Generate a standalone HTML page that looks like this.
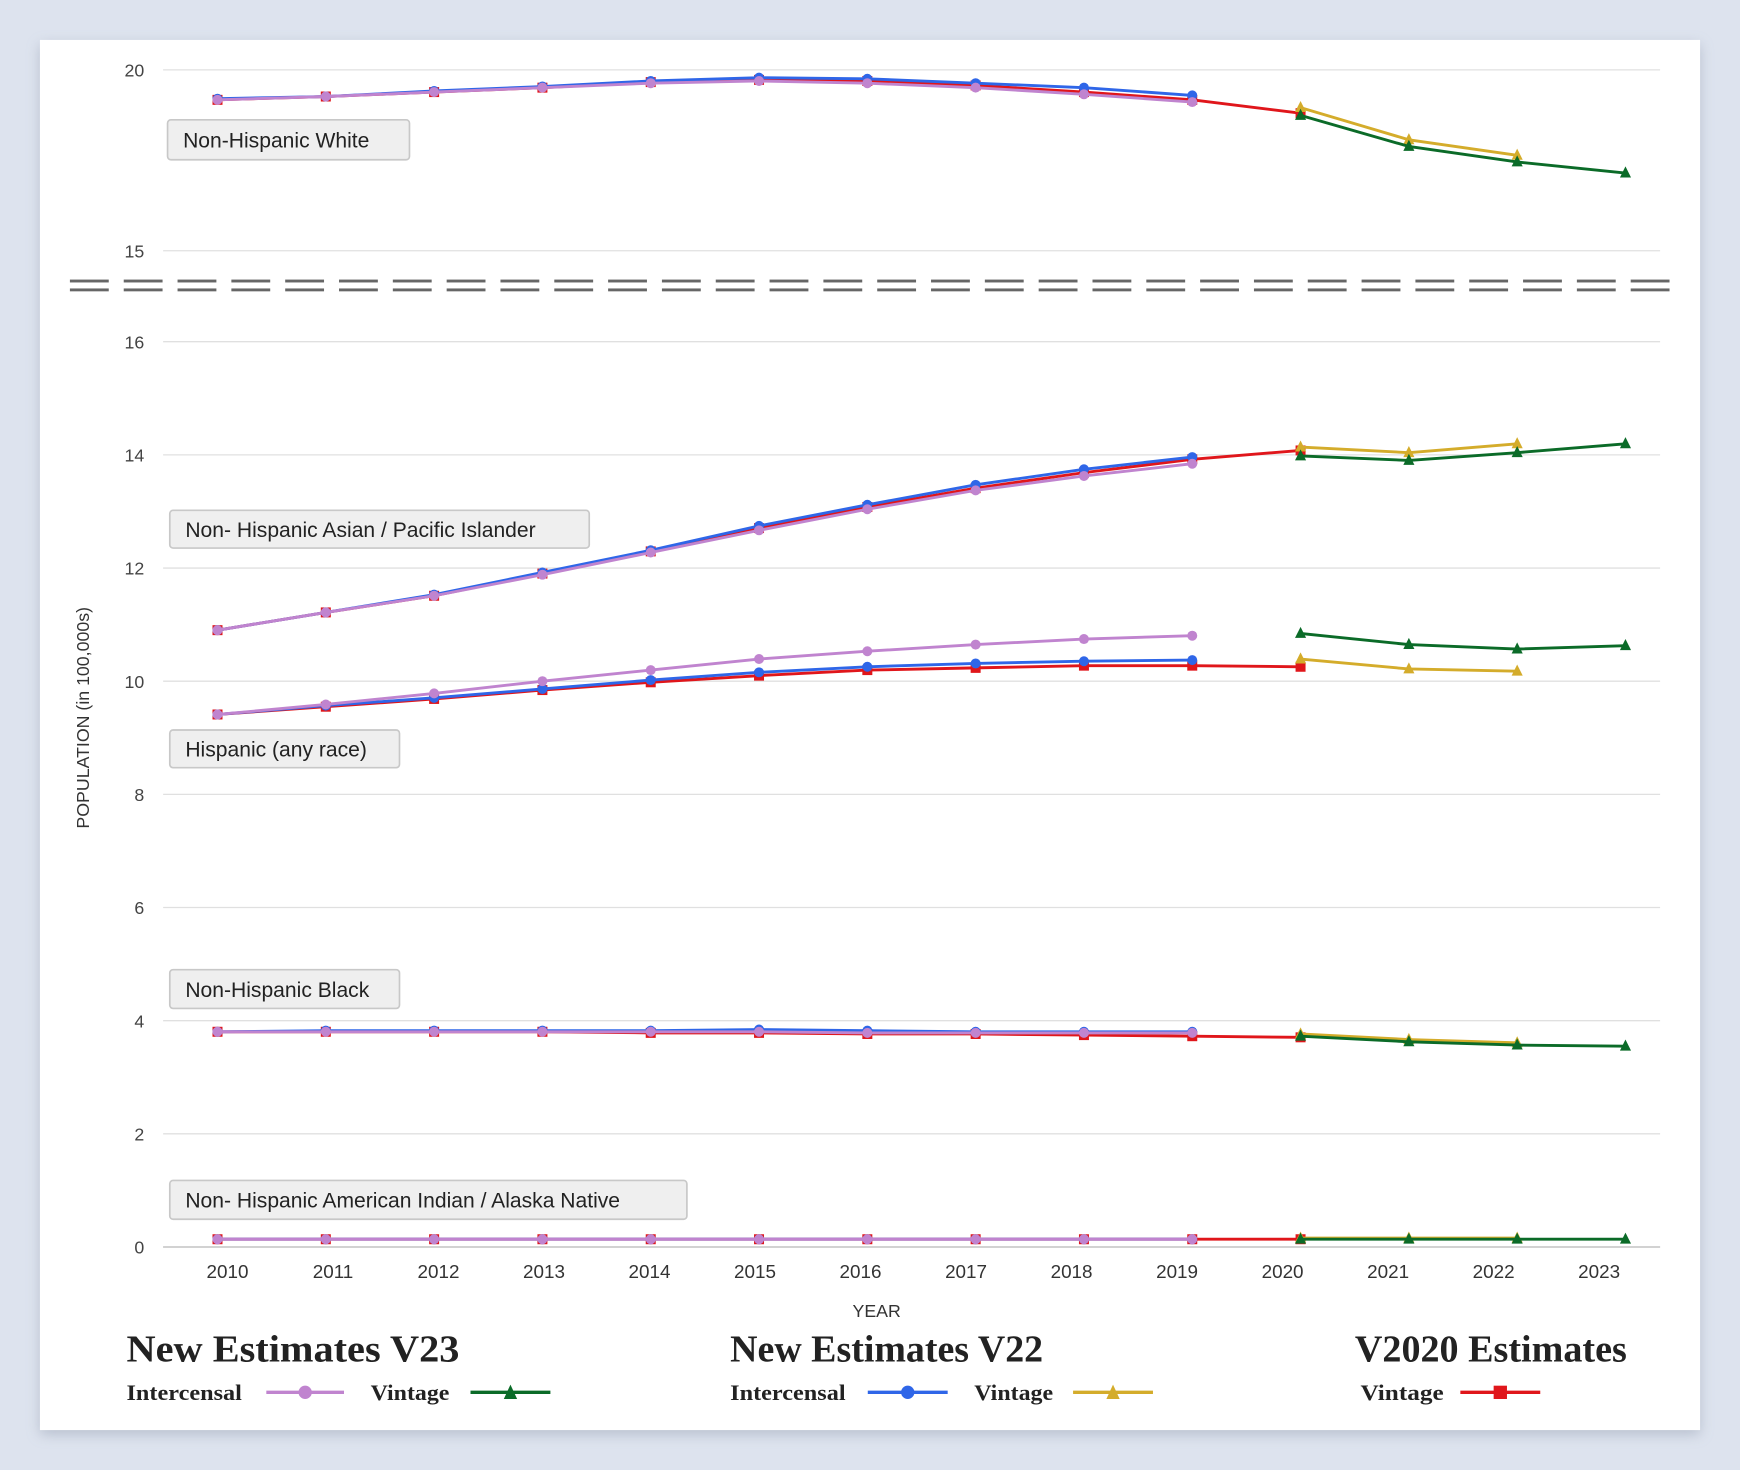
<!DOCTYPE html>
<html><head><meta charset="utf-8">
<style>
html,body{margin:0;padding:0;background:#dde3ee;}
svg{display:block;}
</style></head>
<body>
<svg id="s" width="1740" height="1470" viewBox="0 0 1568 1325" preserveAspectRatio="none" xmlns="http://www.w3.org/2000/svg">
<defs>
<filter id="sh" x="-5%" y="-5%" width="110%" height="110%"><feDropShadow dx="0" dy="4" stdDeviation="6" flood-color="#8a94a8" flood-opacity="0.45"/></filter>
</defs>
<rect x="0" y="0" width="1568" height="1325" fill="#dde3ee"/>
<rect x="36" y="36" width="1496" height="1253" fill="#fff" filter="url(#sh)"/>
<g id="g"></g>
</svg>
<script>
const NS="http://www.w3.org/2000/svg",g=document.getElementById('g');
function el(t,a,txt){const e=document.createElementNS(NS,t);for(const k in a)e.setAttribute(k,a[k]);if(txt!==undefined)e.textContent=txt;g.appendChild(e);return e;}
const SANS='"Liberation Sans", sans-serif', SERIF='"Liberation Serif", serif';
function grid(y,l){el('line',{x1:147,x2:1496,y1:y,y2:y,stroke:'#e0e0e0','stroke-width':1.2});el('text',{x:130,y:y+6,'text-anchor':'end','font-family':SANS,'font-size':16,fill:'#444'},l);}
grid(63,'20');grid(226,'15');
for(let v=0;v<=16;v+=2)grid(1124-v*51,String(v));
el('line',{x1:147,x2:1496,y1:1124,y2:1124,stroke:'#ccc','stroke-width':1.5});
for(let x=63;x<1505;x+=48.5){const w=Math.min(35,1505-x);el('rect',{x:x,y:252,width:w,height:2.6,fill:'#666'});el('rect',{x:x,y:260,width:w,height:2.6,fill:'#666'});}
const yrs=[2010,2011,2012,2013,2014,2015,2016,2017,2018,2019,2020,2021,2022,2023];
yrs.forEach((y,i)=>el('text',{x:205+95.08*i,y:1152,'text-anchor':'middle','font-family':SANS,'font-size':17,fill:'#333'},String(y)));
el('text',{x:790,y:1187,'text-anchor':'middle','font-family':SANS,'font-size':16,fill:'#333'},'YEAR');
el('text',{x:0,y:0,'text-anchor':'middle','font-family':SANS,'font-size':16,fill:'#333',transform:'translate(80,647) rotate(-90)'},'POPULATION (in 100,000s)');
function lab(x,y,w,h,t){el('rect',{x:x,y:y,width:w,height:h,rx:3,fill:'#efefef',stroke:'#c8c8c8','stroke-width':1.5});el('text',{x:x+14,y:y+h/2+7,'font-family':SANS,'font-size':19,fill:'#222'},t);}
lab(151,108,218,36,'Non-Hispanic White');
lab(153,460,378,34,'Non- Hispanic Asian / Pacific Islander');
lab(153,658,207,34,'Hispanic (any race)');
lab(153,874,207,35,'Non-Hispanic Black');
lab(153,1064,466,35,'Non- Hispanic American Indian / Alaska Native');
const C={p:'#c084cf',b:'#2f66e8',r:'#e0161b',y:'#d4ac2b',g:'#0b6b28'};
const X=i=>196+97.6*i;
function mk(type,x,y,c){
 if(type==='c')el('circle',{cx:x,cy:y,r:4.5,fill:c});
 else if(type==='t')el('path',{d:`M${x} ${y-6}L${x+5} ${y+4}L${x-5} ${y+4}Z`,fill:c});
 else el('rect',{x:x-4.5,y:y-4.5,width:9,height:9,fill:c});
}
function ser(ys,start,c,type){const pts=ys.map((y,i)=>[X(start+i),y]);el('polyline',{points:pts.map(p=>p.join(',')).join(' '),fill:'none',stroke:c,'stroke-width':2.6});pts.forEach(p=>mk(type,p[0],p[1],c));}
const D={
 white:{r:[90,87,83,79,74,72,73,77,83,90,102],g:[104,132,146,156],y:[97,126,140],b:[89,87,82,78,73,70,71,75,79,86],p:[90,87,83,79,75,73,75,79,85,92]},
 asian:{r:[568,552,537,517,497,476,457,440,426,414,406],g:[411,415,408,400],y:[403,408,400],b:[568,552,536,516,496,474,455,437,423,412],p:[568,552,537,518,498,478,459,442,429,418]},
 hisp:{r:[644,637,630,622,615,609,604,602,600,600,601],g:[571,581,585,582],y:[594,603,605],b:[644,636,629,621,613,606,601,598,596,595],p:[644,635,625,614,604,594,587,581,576,573]},
 black:{r:[930,930,930,930,931,931,932,932,933,934,935],g:[934,939,942,943],y:[932,937,940],b:[930,929,929,929,929,928,929,930,930,930],p:[930,930,930,930,930,930,931,931,931,931]},
 aian:{r:[1117,1117,1117,1117,1117,1117,1117,1117,1117,1117,1117],g:[1117,1117,1117,1117],y:[1116,1116,1116],b:[1117,1117,1117,1117,1117,1117,1117,1117,1117,1117],p:[1117,1117,1117,1117,1117,1117,1117,1117,1117,1117]}
};
for(const k in D){const d=D[k];ser(d.r,0,C.r,'s');ser(d.y,10,C.y,'t');ser(d.g,10,C.g,'t');ser(d.b,0,C.b,'c');ser(d.p,0,C.p,'c');}
function T(x,y,s,t,len,a){const at={x:x,y:y,'font-family':SERIF,'font-size':s,'font-weight':'bold',fill:'#222','text-anchor':a||'start'};if(len){at.textLength=len;at.lengthAdjust='spacingAndGlyphs';}el('text',at,t);}
T(114,1227,34,'New Estimates V23',300);T(658,1227,34,'New Estimates V22',282);T(1466,1227,34,'V2020 Estimates',245,'end');
T(114,1262,19.5,'Intercensal',104);T(334,1262,19.5,'Vintage',71);T(658,1262,19.5,'Intercensal',104);T(878,1262,19.5,'Vintage',71);T(1226,1262,19.5,'Vintage',75);
function LL(x1,x2,c,type){el('line',{x1:x1,x2:x2,y1:1255,y2:1255,stroke:c,'stroke-width':3});const m=(x1+x2)/2;
 if(type==='c')el('circle',{cx:m,cy:1255,r:6,fill:c});else if(type==='t')el('path',{d:`M${m} ${1248}L${m+6} ${1261}L${m-6} ${1261}Z`,fill:c});else el('rect',{x:m-6,y:1249,width:12,height:12,fill:c});}
LL(240,310,C.p,'c');LL(424,496,C.g,'t');LL(782,854,C.b,'c');LL(967,1039,C.y,'t');LL(1316,1388,C.r,'s');
</script>
</body></html>
